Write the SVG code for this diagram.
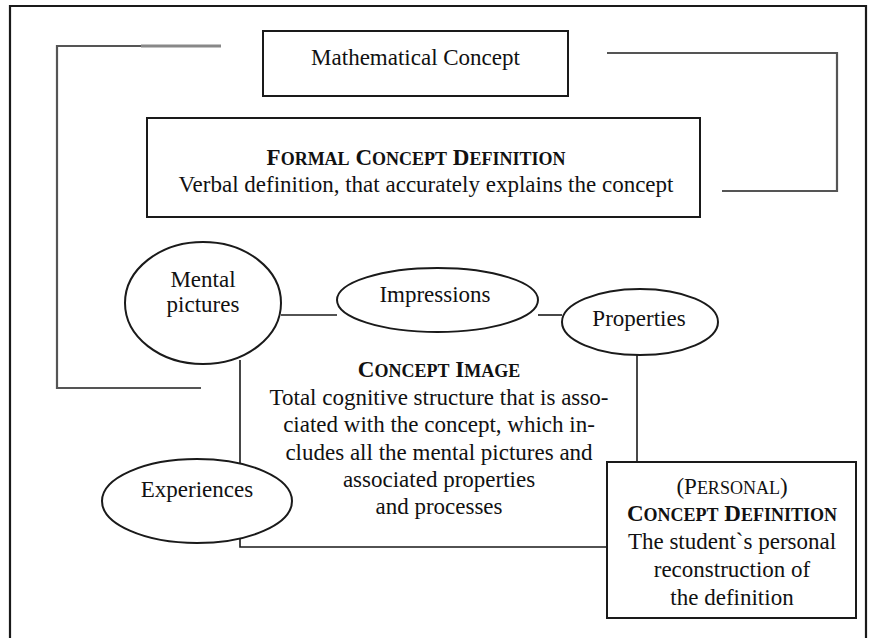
<svg xmlns="http://www.w3.org/2000/svg" width="873" height="638" viewBox="0 0 873 638">
<style>
text{font-family:"Liberation Serif","Times New Roman",serif;font-size:23px;fill:#111;text-anchor:middle}
.sc{font-weight:bold}
.sm{font-size:18px}
.box{fill:#fff;stroke:#1a1a1a;stroke-width:2}
.ell{fill:#fff;stroke:#1a1a1a;stroke-width:2}
.con{fill:none;stroke:#1a1a1a;stroke-width:1.6}
.br{fill:none;stroke:#555;stroke-width:2.2}
</style>
<rect width="873" height="638" fill="#fff"/>
<path d="M10,638 V6 H866 V638" fill="none" stroke="#1a1a1a" stroke-width="2.2"/>
<g id="connectors">
<path class="br" d="M141,46 H57 V388 H201"/>
<path d="M141,46 H221" fill="none" stroke="#888" stroke-width="3"/>
<path class="br" d="M607,53 H837 V191 H722"/>
<path class="con" d="M281,315 H337"/>
<path class="con" d="M538,315 H562"/>
<path class="con" d="M240,360 V547 H607"/>
<path class="con" d="M637,355 V462"/>
</g>
<g id="math">
<rect class="box" x="263" y="31" width="305" height="65"/>
<text x="415.5" y="65">Mathematical Concept</text>
</g>
<g id="formal">
<rect class="box" x="147" y="118" width="553" height="99"/>
<text class="sc" x="416" y="165">F<tspan class="sm">ORMAL</tspan> C<tspan class="sm">ONCEPT</tspan> D<tspan class="sm">EFINITION</tspan></text>
<text x="426" y="192">Verbal definition, that accurately explains the concept</text>
</g>
<g id="concept-image">
<text class="sc" x="439" y="377">C<tspan class="sm">ONCEPT</tspan> I<tspan class="sm">MAGE</tspan></text>
<text x="439" y="405">Total cognitive structure that is asso-</text>
<text x="439" y="432">ciated with the concept, which in-</text>
<text x="439" y="460">cludes all the mental pictures and</text>
<text x="439" y="487">associated properties</text>
<text x="439" y="514">and processes</text>
</g>
<g id="mental">
<ellipse class="ell" cx="203" cy="303" rx="78" ry="61"/>
<text x="203" y="287">Mental</text>
<text x="203" y="312">pictures</text>
</g>
<g id="impressions">
<ellipse class="ell" cx="437.5" cy="300" rx="100.5" ry="32"/>
<text x="435" y="302">Impressions</text>
</g>
<g id="properties">
<ellipse class="ell" cx="640" cy="322" rx="78" ry="33"/>
<text x="639" y="326">Properties</text>
</g>
<g id="experiences">
<ellipse class="ell" cx="197" cy="501" rx="95" ry="42"/>
<text x="197" y="497">Experiences</text>
</g>
<g id="personal">
<rect class="box" x="607" y="462" width="249" height="156"/>
<text x="732" y="494">(P<tspan class="sm">ERSONAL</tspan>)</text>
<text class="sc" x="732" y="521">C<tspan class="sm">ONCEPT</tspan> D<tspan class="sm">EFINITION</tspan></text>
<text x="732" y="549">The student`s personal</text>
<text x="732" y="577">reconstruction of</text>
<text x="732" y="605">the definition</text>
</g>
</svg>
